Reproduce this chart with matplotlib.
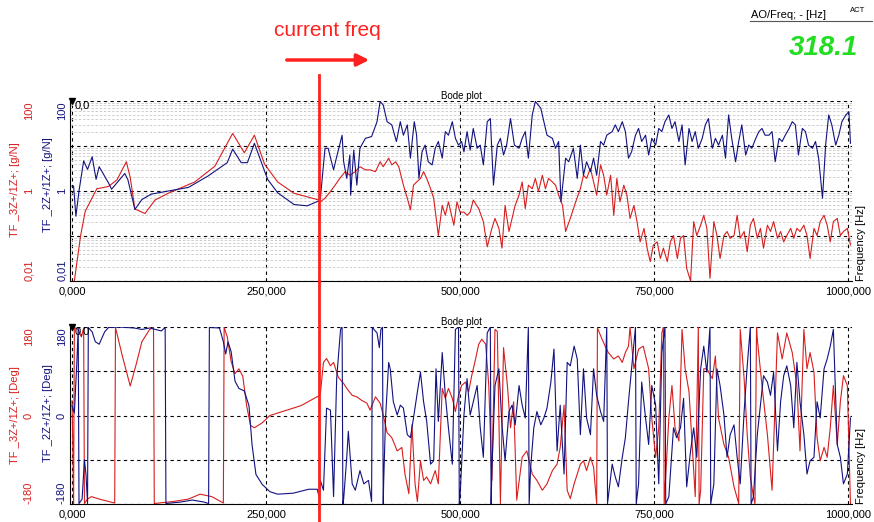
import numpy as np
import matplotlib.pyplot as plt
from matplotlib.ticker import FuncFormatter, FixedLocator, LogLocator

# Frequency axis [Hz]
x_ticks = [0, 250, 500, 750, 1000]
current_freq = 318.1

# --- magnitude, stored as log10 of [g/N] ---
blue_mag = [
    (0, 0.11), (2, 0.11), (5, -0.56), (9, 0.0), (15, 0.67), (20, 0.48), (26, 0.76), (31, 0.26),
    (35, 0.54), (47, 0.18), (51, 0.04), (68, 0.39), (72, 0.25), (81, -0.41), (90, -0.19),
    (102, -0.07), (124, 0.0), (150, 0.08), (175, 0.33), (200, 0.63), (207, 0.93), (218, 0.63),
    (226, 0.63), (235, 1.06), (241, 0.78), (252, 0.26), (265, -0.04), (286, -0.3), (303, -0.33),
    (318, -0.22),
    (320, -0.16), (326, 0.95), (330, 0.95), (337, 0.47), (341, 0.76), (348, 1.24), (350, 0.65),
    (354, 0.28), (358, 0.8), (359, -0.09), (363, 0.91), (367, 0.13), (371, 0.95), (378, 1.17),
    (386, 1.21), (393, 1.54), (397, 1.99), (401, 1.91), (406, 1.54), (412, 1.47), (418, 1.1),
    (423, 1.54), (427, 1.24), (432, 1.47), (436, 0.73), (441, 1.54), (444, 1.24), (447, 0.28),
    (451, 0.87), (455, 1.02), (459, 0.65), (464, 0.58), (468, 0.95), (472, 1.1), (477, 0.73),
    (481, 1.32), (485, 1.24), (490, 1.54), (494, 1.17), (498, 1.02), (502, 1.1), (505, 0.87),
    (509, 1.32), (513, 0.91), (517, 1.39), (522, 0.95), (526, 1.02), (530, 0.58), (535, 1.54),
    (539, 1.61), (543, 0.13), (548, 1.02), (552, 1.17), (556, 0.8), (560, 1.02), (565, 1.61),
    (570, 1.02), (576, 0.95), (580, 1.17), (584, 1.32), (588, 0.73), (593, 1.69), (597, 1.99),
    (604, 1.84), (608, 1.54), (612, 1.24), (619, 1.17), (623, 0.95), (627, 1.1), (630, -0.24),
    (636, 0.73), (640, 0.65), (646, 0.95), (651, 0.28),
    (655, 1.02), (659, 0.35), (663, 0.65), (668, 0.43), (672, 0.73), (676, 0.35), (681, 1.1),
    (685, 1.02), (689, 1.24), (696, 1.32), (700, 1.47), (704, 1.32), (709, 1.54), (713, 1.32),
    (717, 0.73), (721, 0.87), (726, 1.24), (730, 1.39), (734, 1.1), (739, 1.24), (743, 0.8),
    (747, 1.17), (752, 1.02), (756, 1.39), (760, 1.32), (764, 1.54), (769, 1.69), (773, 1.39),
    (777, 1.54), (782, 1.1), (786, 1.47), (790, 0.58), (795, 1.39), (799, 1.1), (803, 1.32),
    (807, 0.95), (812, 1.17), (816, 1.47), (820, 1.61), (825, 0.95), (829, 1.17), (833, 1.02),
    (838, 1.24), (842, 0.73), (846, 1.69), (850, 1.17), (855, 0.65), (859, 1.1), (863, 1.47),
    (868, 0.8), (872, 1.02), (876, 0.95), (881, 1.17), (885, 1.32), (889, 1.39), (893, 1.24),
    (898, 1.24), (902, 1.32), (906, 0.65), (911, 1.17), (915, 1.1), (919, 1.24), (924, 1.39),
    (928, 1.54), (932, 1.47), (936, 0.8), (941, 1.39), (945, 1.32), (949, 1.02), (954, 0.95),
    (958, 1.1), (962, 0.73), (967, -0.16), (971, 1.02), (975, 1.69), (979, 1.47), (984, 1.02),
    (988, 1.24), (992, 1.54), (997, 1.69), (1001, 1.76), (1003, 1.06),
]

red_mag = [
    (3, -2.0), (7, -1.5), (11, -1.0), (17, -0.45), (26, -0.15), (32, 0.05), (47, 0.1), (58, 0.25),
    (70, 0.65), (75, 0.3), (81, -0.4), (94, -0.5), (107, -0.2), (124, -0.05), (158, 0.2),
    (184, 0.55), (207, 1.28), (222, 0.85), (235, 1.24), (248, 0.6), (265, 0.2), (286, -0.05),
    (318, -0.2),
    (320, -0.24), (326, -0.16), (333, -0.01), (339, 0.13), (345, 0.28), (352, 0.43), (358, 0.35),
    (365, 0.43), (371, 0.54), (378, 0.47), (384, 0.47), (391, 0.43), (397, 0.65), (401, 0.54),
    (408, 0.73), (412, 0.58), (417, 0.65), (421, 0.54), (427, 0.13), (432, -0.16), (436, -0.42),
    (440, 0.13), (444, 0.2), (449, 0.28), (453, 0.43), (457, 0.28), (462, 0.05), (466, -0.16),
    (472, -0.99), (477, -0.32), (481, -0.54), (485, -0.24), (492, -0.76), (496, -0.24),
    (500, -0.47), (505, -0.47), (509, -0.54), (513, -0.47), (517, -0.2), (524, -0.39),
    (530, -0.68), (535, -1.24), (541, -0.83), (545, -0.61), (550, -0.83), (554, -1.27),
    (558, -0.32), (563, -0.9), (567, -0.61), (571, -0.32), (576, -0.09), (580, 0.2), (584, -0.39),
    (588, 0.13), (593, 0.05), (597, 0.28), (601, -0.01), (606, 0.35), (610, 0.05), (614, 0.28),
    (619, 0.2), (623, 0.13), (627, -0.09), (632, -0.32), (636, -0.9), (642, -0.61), (649, -0.24),
    (655, 0.05), (659, 0.35), (663, 0.28), (668, 0.5), (672, 0.2), (676, -0.09), (681, 0.58),
    (685, 0.35), (689, -0.09), (694, 0.35), (698, -0.54), (702, 0.28), (706, -0.24), (711, 0.13),
    (715, -0.09), (719, -0.61), (724, -0.32), (728, -0.68), (732, -1.13), (737, -0.83),
    (741, -1.27), (745, -1.57), (749, -1.2), (754, -1.13), (758, -1.5), (762, -1.27),
    (767, -1.57), (771, -1.13), (775, -0.99), (780, -1.5), (784, -1.05), (788, -0.99),
    (792, -1.72), (797, -2.0), (801, -0.68), (805, -0.99), (810, -0.76), (814, -0.54),
    (818, -0.83), (822, -1.94), (827, -0.68), (831, -0.99), (835, -1.5), (840, -0.99),
    (844, -0.9), (848, -1.05), (853, -0.99), (857, -0.54), (861, -1.05), (866, -0.9),
    (870, -1.35), (874, -0.76), (878, -0.61), (883, -1.05), (887, -0.83), (891, -1.27),
    (896, -0.76), (900, -0.9), (904, -0.68), (909, -1.05), (913, -0.9), (917, -1.13),
    (921, -0.99), (926, -0.83), (930, -1.05), (934, -0.83), (938, -0.9), (943, -0.76),
    (947, -0.99), (951, -1.5), (956, -0.83), (960, -0.99), (964, -0.68), (969, -0.54),
    (973, -0.76), (977, -1.13), (981, -0.68), (986, -0.61), (990, -0.99), (994, -0.9),
    (999, -0.83), (1003, -1.2),
]

# --- phase [Deg] ---
blue_phase = [
    (0, 20), (3, 5), (6, 100), (8, 178), (9, -179), (13, -170), (16, -90), (18, -120),
    (20, -179), (21, 179), (26, 170), (30, 150), (35, 145), (42, 170), (47, 179), (60, 180),
    (80, 178), (90, 175), (100, 178), (115, 172), (120, 179), (121, -179), (140, -176),
    (155, -172), (170, -176), (176, -179), (177, 179), (190, 178), (195, 150), (198, 125),
    (201, 150), (205, 130), (210, 70), (215, 55), (222, 50), (228, 20), (232, -60), (237, -120),
    (245, -140), (255, -155), (265, -160), (285, -158), (305, -150), (316, -150), (319, -170),
    (320, -132), (324, -152), (328, 15), (333, 11), (337, -165), (341, 75), (346, 175),
    (348, 180), (349, -180), (350, -170), (354, -85), (356, -32), (361, -139), (365, -152),
    (371, -112), (376, -139), (382, -132), (386, -175), (387, 180), (389, 175), (393, 168),
    (396, 138), (398, 175), (400, 180), (401, -180), (401.5, -139), (404, -5), (408, 108),
    (410, 95), (414, 28), (419, 1), (423, 21), (427, 15), (432, -39), (436, -45), (440, -5),
    (445, 48), (449, 88), (453, 28), (457, -12), (462, -99), (466, -92), (469, 95), (472, -12),
    (477, 128), (481, 41), (485, -25), (490, -99), (494, 175), (498, 180), (499, -180),
    (500, -165), (505, 1), (509, 75), (513, 1), (522, 61), (526, -25), (530, -85), (535, 168),
    (539, 180), (540, -180), (541, -112), (545, 61), (550, 95), (554, -19), (558, -92),
    (563, 8), (567, 21), (571, -19), (576, 61), (580, 21), (584, -5), (588, 180), (589, -180),
    (591, -105), (595, -25), (599, 8), (604, -19), (608, -5), (612, 15), (617, 68), (621, 135),
    (625, -72), (629, 21), (634, -119), (638, 108), (642, 101), (647, 141), (651, 115),
    (655, -39), (659, 95), (663, -5), (668, -39), (672, 95), (676, 41), (681, 8), (685, -12),
    (689, 180), (690, -179), (696, -99), (700, -125), (704, -145), (709, -85), (713, -45),
    (717, 28), (721, 95), (726, 180), (727, -180), (730, -139), (734, 68), (739, -5),
    (743, -59), (747, 61), (752, 21), (756, -139), (760, 128), (764, 180), (765, -180),
    (769, -165), (775, -25), (779, -45), (784, -25), (788, 35), (792, -145), (797, -72),
    (801, -25), (805, -85), (810, 95), (814, 141), (818, 88), (822, 180), (823, -180),
    (827, -139), (831, 95), (835, 61), (840, 1), (844, -85), (848, -39), (853, -19), (857, -85),
    (861, -139), (866, 8), (870, 101), (874, 180), (875, -180), (878, -165), (883, -39),
    (887, 21), (891, 81), (896, 68), (900, 41), (904, 88), (909, -72), (913, 28), (917, 81),
    (921, 101), (926, 61), (930, -25), (934, 108), (938, 28), (943, -39), (947, -119),
    (951, -92), (956, -85), (960, 28), (964, -5), (969, 95), (973, 115), (977, 141), (981, 175),
    (986, -59), (990, -85), (994, -139), (999, -119), (1003, -5),
]

red_phase = [
    (0, 30), (1, -60), (2, -179), (3, 179), (8, 175), (12, 160), (15, 178), (16, -179),
    (20, -170), (25, -165), (35, -170), (55, -178), (56, 179), (65, 120), (75, 60), (82, 100),
    (90, 150), (100, 175), (105, 179), (106, -179), (130, -175), (150, -170), (165, -160),
    (180, -165), (195, -178), (196, 179), (200, 160), (205, 110), (210, 85), (215, 95), (220, 80),
    (225, 20), (230, -20), (235, -25), (245, -15), (255, 0), (275, 10), (295, 20), (318, 40),
    (320, 45), (324, 108), (328, 116), (333, 101), (337, 108), (343, 78), (350, 65), (354, 55),
    (361, 41), (367, 38), (373, 31), (380, 25), (384, 11), (391, 38), (397, 25), (401, 1),
    (406, -35), (412, -45), (419, -72), (425, -65), (429, -119), (434, -159), (438, -19),
    (442, -139), (445, -175), (449, -92), (453, -132), (457, -125), (462, -139), (468, -112),
    (472, -139), (477, 55), (481, 35), (485, 55), (490, 35), (494, 8), (498, 41), (502, 61),
    (507, 68), (511, 48), (515, 81), (520, 115), (524, 145), (528, 155), (533, 145), (537, 61),
    (541, -132), (545, 175), (548, 171), (552, -179), (556, 138), (561, 61), (565, -25),
    (569, 28), (573, -172), (580, -85), (586, -72), (593, -119), (599, -132), (606, -152),
    (612, -139), (619, -112), (625, -99), (629, -65), (634, 21), (638, -152), (642, -169),
    (647, -139), (651, -119), (655, -99), (659, -92), (663, -112), (668, -85), (672, -105),
    (676, -179), (677, 178), (683, 155), (687, 141), (691, 128), (698, 115), (704, 121),
    (709, 108), (713, 128), (717, 141), (719, 180), (724, 95), (730, 135), (736, 141),
    (743, 95), (747, -5), (752, -85), (756, -25), (760, 168), (762, 180), (763, -180),
    (769, -5), (773, 61), (777, -25), (782, -52), (786, 175), (790, 95), (795, 48), (799, -59),
    (803, -165), (807, 180), (808, -180), (810, -152), (814, 95), (818, 95), (825, 75),
    (829, 121), (833, -5), (840, -59), (846, -85), (853, -145), (859, -179), (861, 175),
    (866, 75), (870, -39), (874, -125), (878, -165), (880, -180), (882, 180), (883, 155),
    (889, 61), (896, -39), (902, -152), (909, 168), (915, 115), (921, 168), (928, 128),
    (934, 61), (938, -72), (943, 175), (947, 95), (951, 128), (956, 88), (960, -45),
    (964, -92), (969, -65), (973, -85), (977, -25), (981, 61), (986, -59), (990, 28),
    (994, 81), (999, 61), (1003, -179),
]

RED = '#d81e1e'
BLUE = '#121280'

fig = plt.figure(figsize=(8.74, 5.22), dpi=100)
plt.rcParams['font.family'] = ['Liberation Sans', 'DejaVu Sans']

ax_mag = fig.add_axes([70 / 874, 1 - 281 / 522, 782 / 874, 180 / 522])
ax_ph = fig.add_axes([70 / 874, 1 - 504 / 522, 782 / 874, 177 / 522])

xfmt = FuncFormatter(lambda v, p: f"{v:.3f}".replace('.', ','))


def place_ylabels(ax_, ticks, labels, color, xpix):
    # rotated tick labels: bottom one sits above the axis end, top one below
    lo, hi = ticks[0], ticks[-1]
    trans = ax_.get_yaxis_transform().__class__(fig.transFigure, ax_.transData)
    for t, lab in zip(ticks, labels):
        va = 'bottom' if t == lo else ('top' if t == hi else 'center')
        ax_.text(xpix / 874, t, lab, transform=trans, rotation=90, color=color,
                 fontsize=8, ha='center', va=va)


def style_axes(ax):
    ax.set_xlim(-2.6, 1005)
    ax.xaxis.set_major_locator(FixedLocator(x_ticks))
    ax.xaxis.set_major_formatter(xfmt)
    ax.tick_params(axis='x', length=0, labelsize=8, pad=4)
    ax.tick_params(axis='y', which='both', length=0, labelleft=False)
    ax.grid(True, which='major', color='black', linestyle=(0, (3, 3)), linewidth=0.8)
    for side in ['top', 'right']:
        ax.spines[side].set_visible(False)
    ax.set_title('Bode plot', fontsize=7, pad=1)
    ax.text(4, 1.0, '0,0', transform=ax.get_xaxis_transform(), fontsize=8, va='top')
    ax.plot([0], [1.0], marker='v', color='black', markersize=5,
            transform=ax.get_xaxis_transform(), clip_on=False)
    ax.text(1.012, 0.0, 'Frequency [Hz]', transform=ax.transAxes, rotation=90,
            fontsize=8, va='bottom', ha='center')


# magnitude
f_b, lg_b = zip(*blue_mag)
f_r, lg_r = zip(*red_mag)
ax_mag.plot(f_r, 10 ** np.array(lg_r), color=RED, lw=0.8)
ax_mag.plot(f_b, 10 ** np.array(lg_b), color=BLUE, lw=0.8)
ax_mag.set_yscale('log')
ax_mag.set_ylim(0.01, 100)
ax_mag.yaxis.set_major_locator(FixedLocator([0.01, 0.1, 1, 10, 100]))
ax_mag.yaxis.set_minor_locator(LogLocator(base=10, subs=np.arange(2, 10)))
ax_mag.grid(True, which='minor', axis='y', color='#c8c8c8', linestyle=(0, (3, 2)), linewidth=0.6)
style_axes(ax_mag)
mag_ticks = [0.01, 1, 100]
mag_labels = ['0,01', '1', '100']
place_ylabels(ax_mag, mag_ticks, mag_labels, BLUE, 62)
place_ylabels(ax_mag, mag_ticks, mag_labels, RED, 29)
fig.text(48 / 874, 1 - 185 / 522, 'TF _2Z+/1Z+; [g/N]', rotation=90, color=BLUE,
         fontsize=8, va='center', ha='center')
fig.text(15 / 874, 1 - 190 / 522, 'TF _3Z+/1Z+; [g/N]', rotation=90, color=RED,
         fontsize=8, va='center', ha='center')

# phase
f_b, p_b = zip(*blue_phase)
f_r, p_r = zip(*red_phase)
ax_ph.plot(f_r, p_r, color=RED, lw=0.8)
ax_ph.plot(f_b, p_b, color=BLUE, lw=0.8)
ax_ph.set_ylim(-180, 180)
ax_ph.yaxis.set_major_locator(FixedLocator([-180, -90, 0, 90, 180]))
style_axes(ax_ph)
ph_ticks = [-180, 0, 180]
ph_labels = ['-180', '0', '180']
place_ylabels(ax_ph, ph_ticks, ph_labels, BLUE, 62)
place_ylabels(ax_ph, ph_ticks, ph_labels, RED, 29)
fig.text(48 / 874, 1 - 413 / 522, 'TF _2Z+/1Z+; [Deg]', rotation=90, color=BLUE,
         fontsize=8, va='center', ha='center')
fig.text(15 / 874, 1 - 415 / 522, 'TF _3Z+/1Z+; [Deg]', rotation=90, color=RED,
         fontsize=8, va='center', ha='center')

# current frequency cursor
ax_mag.axvline(current_freq, ymin=0, ymax=1 + 26 / 180, color='#ff2020', lw=2, clip_on=False, zorder=5)
ax_ph.axvline(current_freq, ymin=-18 / 177, ymax=1 + 46 / 177, color='#ff2020', lw=2, clip_on=False, zorder=5)

fig.text(327 / 874, 1 - 30 / 522, 'current freq', color='#ff2020', fontsize=15,
         ha='center', va='center')
fig.add_artist(plt.Annotation('', xy=(372 / 874, 1 - 60 / 522), xytext=(284 / 874, 1 - 60 / 522),
                              xycoords='figure fraction',
                              arrowprops=dict(arrowstyle='-|>', color='#ff2020', lw=2.5,
                                              mutation_scale=18)))

# readout top right
fig.text(751 / 874, 1 - 15 / 522, 'AO/Freq; - [Hz]', fontsize=8, va='center')
fig.text(850 / 874, 1 - 10 / 522, 'ACT', fontsize=5.5, va='center')
fig.add_artist(plt.Line2D([750 / 874, 872 / 874], [1 - 21 / 522, 1 - 21 / 522], color='#555555', lw=0.8))
fig.text(858 / 874, 1 - 48 / 522, f'{current_freq:.1f}', fontsize=20, color='#22dd22',
         ha='right', va='center', style='italic', fontweight='bold')

fig.savefig('out.png', dpi=100)
